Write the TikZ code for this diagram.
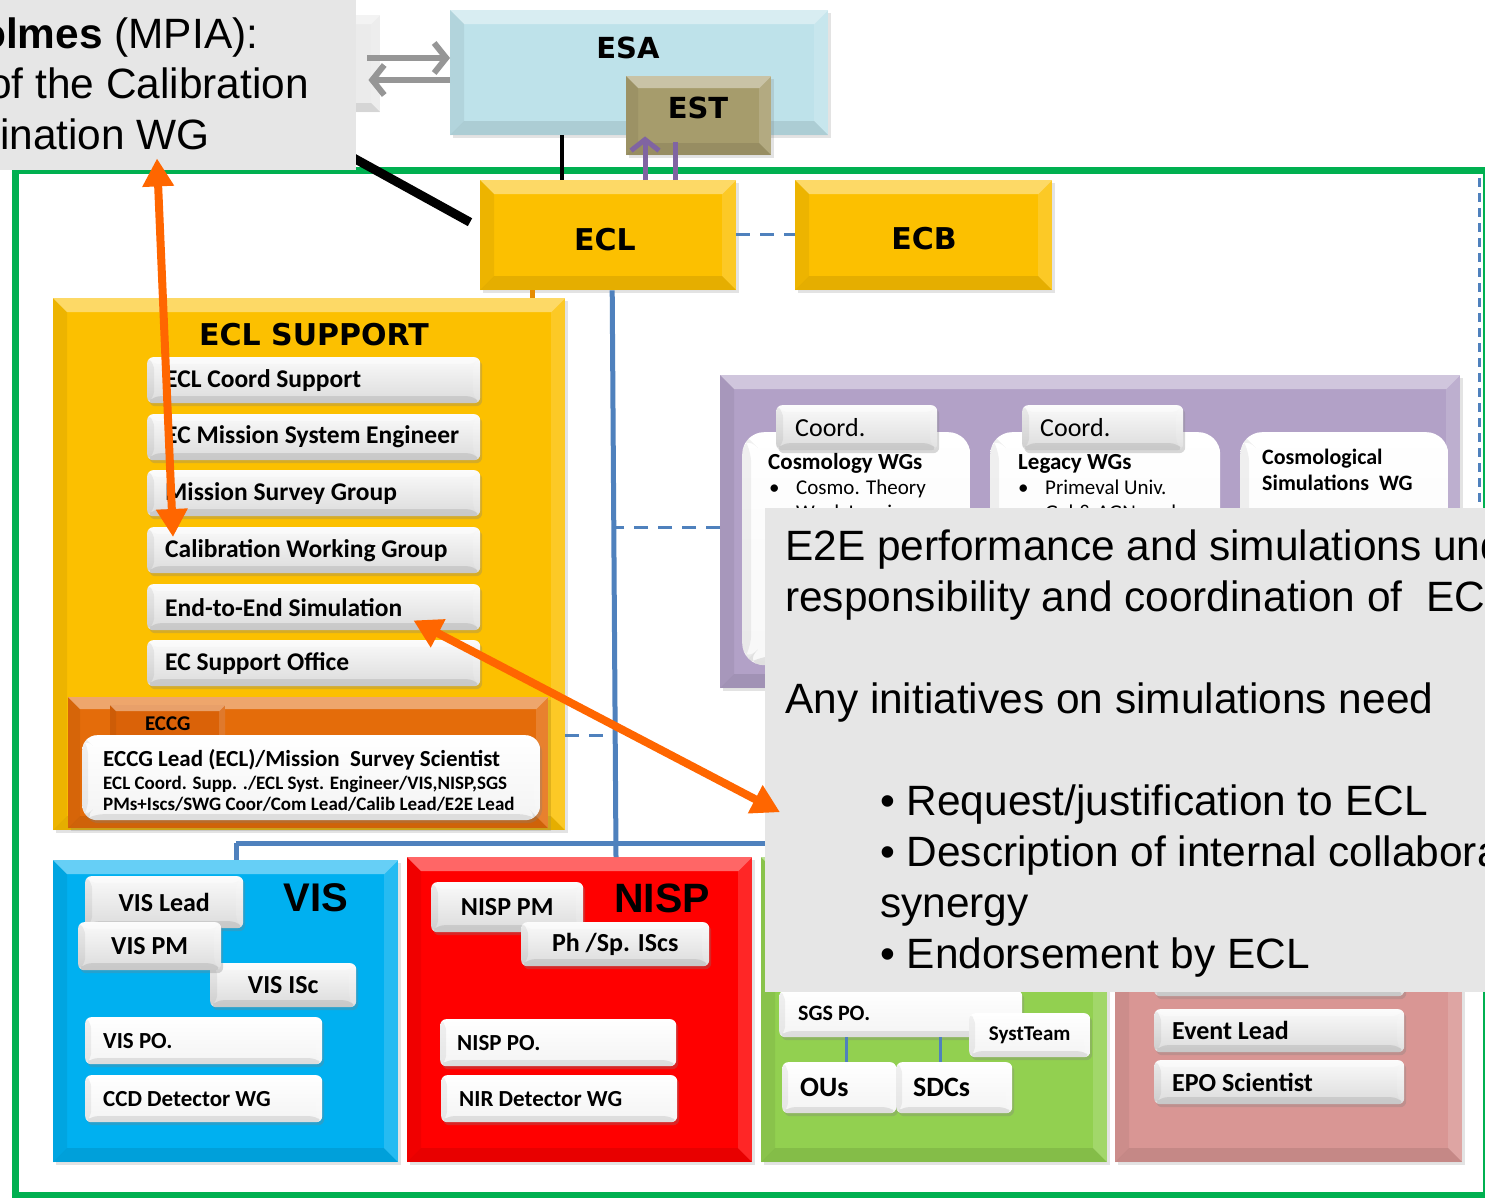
\documentclass[tikz,border=0pt]{standalone}
\usepackage{fontspec}
\setmainfont{Liberation Sans}
\newfontfamily\calibfam{Carlito}
\newfontfamily\verdfam{DejaVu Sans}
\newfontfamily\arialfam{Liberation Sans}
\usetikzlibrary{arrows.meta,shadows}

\definecolor{framegreen}{RGB}{0,176,80}
\definecolor{esablue}{RGB}{190,226,234}
\definecolor{estolive}{RGB}{166,156,108}
\definecolor{eyellow}{RGB}{252,192,0}
\definecolor{eccgorange}{RGB}{228,108,10}
\definecolor{eccgtab}{RGB}{218,98,8}
\definecolor{wgpurple}{RGB}{178,161,199}
\definecolor{visblue}{RGB}{0,176,240}
\definecolor{nispred}{RGB}{255,0,0}
\definecolor{sgsgreen}{RGB}{146,208,80}
\definecolor{epopink}{RGB}{217,150,148}
\definecolor{linkblue}{RGB}{79,129,189}
\definecolor{hiorange}{RGB}{255,102,0}
\definecolor{notegray}{RGB}{230,230,230}
\definecolor{linkgray}{RGB}{150,150,150}
\definecolor{linkpurple}{RGB}{128,100,162}
\definecolor{supporttick}{RGB}{230,140,0}

\newcommand\fntV[1]{\verdfam\bfseries\fontsize{#1}{#1}\selectfont}
\newcommand\fntC[1]{\calibfam\fontsize{#1}{#1}\selectfont}
\newcommand\fntCB[1]{\calibfam\bfseries\fontsize{#1}{#1}\selectfont}
\newcommand\fntA[1]{\arialfam\fontsize{#1}{#1}\selectfont}
\newcommand\fntAB[1]{\arialfam\bfseries\fontsize{#1}{#1}\selectfont}

% box given by its corners, label centred
\newcommand\cbox[7]{%
  \pgfmathsetmacro\boxwd{#4-#2}\pgfmathsetmacro\boxht{#5-#3}%
  \node[anchor=north west, inner sep=0pt, minimum width=\boxwd pt,
        minimum height=\boxht pt, #6] (#1) at (#2,#3) {#7};}
% box given by its corners, label left-aligned with padding #6
\newcommand\lbox[8]{%
  \pgfmathsetmacro\boxwd{#4-#2}\pgfmathsetmacro\boxht{#5-#3}%
  \pgfmathsetmacro\lboxtw{#4-#2-2*#6}%
  \node[anchor=north west, inner ysep=0pt, inner xsep=#6pt, minimum width=\boxwd pt,
        minimum height=\boxht pt, #7] (#1) at (#2,#3) {\makebox[\lboxtw pt][l]{#8}};}

\tikzset{
  bevel/.style={path picture={
    \path (path picture bounding box.north west) coordinate (bvNW)
          (path picture bounding box.north east) coordinate (bvNE)
          (path picture bounding box.south west) coordinate (bvSW)
          (path picture bounding box.south east) coordinate (bvSE);
    \fill[white,opacity=.40] (bvNW) -- (bvNE) -- ([xshift=-#1pt,yshift=-#1pt]bvNE)
        -- ([xshift=#1pt,yshift=-#1pt]bvNW) -- cycle;
    \fill[black,opacity=.06] (bvNW) -- (bvSW) -- ([xshift=#1pt,yshift=#1pt]bvSW)
        -- ([xshift=#1pt,yshift=-#1pt]bvNW) -- cycle;
    \fill[white,opacity=.15] (bvNE) -- (bvSE) -- ([xshift=-#1pt,yshift=#1pt]bvSE)
        -- ([xshift=-#1pt,yshift=-#1pt]bvNE) -- cycle;
    \fill[black,opacity=.09] (bvSW) -- (bvSE) -- ([xshift=-#1pt,yshift=#1pt]bvSE)
        -- ([xshift=#1pt,yshift=#1pt]bvSW) -- cycle;
  }},
  bevel/.default=14,
  panel/.style={fill=#1, bevel=14,
    drop shadow={opacity=.22, shadow xshift=3pt, shadow yshift=-3pt}},
  btn/.style={rounded corners=6pt, top color=gray!4, bottom color=gray!28, bevel=7,
    drop shadow={opacity=.3, shadow xshift=2pt, shadow yshift=-3pt}},
  wbox/.style={rounded corners=6pt, top color=white, bottom color=gray!9, bevel=6,
    drop shadow={opacity=.3, shadow xshift=2pt, shadow yshift=-3pt}},
  wpanel/.style={rounded corners=22pt, top color=white, bottom color=gray!6, bevel=9},
  blink/.style={linkblue, line width=5pt},
  dlink/.style={linkblue, line width=3pt, dash pattern=on 14pt off 10pt},
  oarrow/.style={hiorange, line width=8pt,
    {Triangle[length=28pt,width=30pt]}-{Triangle[length=28pt,width=30pt]}},
}

\begin{document}
\begin{tikzpicture}[x=1pt,y=-1pt]
\useasboundingbox (0,0) rectangle (1485,1197);
\fill[white] (0,0) rectangle (1485,1197);

% consortium frame
\cbox{frame}{12}{167}{1483}{1192}{draw=framegreen, line width=7pt}{}
\coordinate (dvTop) at (1479,178);
\coordinate (dvBot) at (1479,530);
\draw[dlink, dash pattern=on 9pt off 6pt] (dvTop) -- (dvBot);

% agency level
\cbox{gbox}{300}{15}{380}{112}{fill=gray!16, bevel=9}{}
\cbox{esa}{450}{10}{828}{135}{panel=esablue}{}
\node[font=\fntV{29}] (esaL) at (628,48) {ESA};
\cbox{est}{626}{76}{771}{155}{panel=estolive, bevel=12}{}
\node[font=\fntV{29}] (estL) at (698,108) {EST};

\draw[linkgray, line width=6pt, -{Straight Barb[length=12pt,width=30pt]}, shorten <=-13pt]
  (gbox.east |- 0,58) -- (esa.west |- 0,58);
\draw[linkgray, line width=6pt, -{Straight Barb[length=12pt,width=30pt]}, shorten >=-12pt]
  (esa.west |- 0,80) -- (gbox.east |- 0,80);

% lead level
\cbox{ecl}{480}{180}{736}{290}{panel=eyellow}{}
\node[font=\fntV{30}] (eclL) at (605,240) {ECL};
\cbox{ecb}{795}{180}{1052}{290}{panel=eyellow}{}
\node[font=\fntV{30}] (ecbL) at (924,239) {ECB};
\draw[dlink] (ecl.east |- 0,234) -- (ecb.west |- 0,234);

\coordinate (blkStart) at (330,145);
\draw[black, line width=9pt] (blkStart) -- ([xshift=-10pt,yshift=13pt]ecl.west);

\draw[black, line width=3.5pt] (esa.south -| 562,0) -- (ecl.north -| 562,0);
\draw[linkpurple, line width=5pt, -{Straight Barb[length=11pt,width=28pt]}, shorten >=-19pt]
  (ecl.north -| 645,0) -- (est.south -| 645,0);
\draw[linkpurple, line width=5pt, shorten >=-13pt] (ecl.north -| 675,0) -- (est.south -| 675,0);

% support and working groups
\cbox{sup}{53}{298}{565}{830}{panel=eyellow}{}
\draw[supporttick, line width=5pt] (ecl.south -| 532,0) -- (sup.north -| 532,0);
\node[font=\fntV{30}] (supL) at (314,335) {ECL SUPPORT};
\lbox{s1}{147}{357}{480}{403}{18}{btn, font=\fntCB{25.5}}{ECL Coord Support}
\lbox{s2}{147}{414}{480}{460}{18}{btn, font=\fntCB{25.5}}{EC Mission System Engineer}
\lbox{s3}{147}{470}{480}{516}{18}{btn, font=\fntCB{25.5}}{Mission Survey Group}
\lbox{s4}{147}{527}{480}{573}{18}{btn, font=\fntCB{25.5}}{Calibration Working Group}
\lbox{s5}{147}{584}{480}{630}{18}{btn, font=\fntCB{25.5}}{End-to-End Simulation}
\lbox{s6}{147}{640}{480}{686}{18}{btn, font=\fntCB{25.5}}{EC Support Office}

\cbox{eccg}{68}{697}{548}{828}{panel=eccgorange, bevel=12}{}
\cbox{eccgtab}{110}{705}{225}{744}{fill=eccgtab, bevel=6, font=\fntCB{21}}{\raisebox{3pt}{ECCG}}
\cbox{eccgbox}{82}{735}{540}{820}{wbox, rounded corners=15pt}{}
\node[anchor=base west, inner sep=0pt, font=\fntCB{23}] (eccgT1) at (103,766)
  {ECCG Lead (ECL)/Mission\ \ Survey Scientist};
\node[anchor=base west, inner sep=0pt, font=\fntCB{19}] (eccgT2) at (103,789)
  {ECL Coord. Supp. ./ECL Syst. Engineer/VIS,NISP,SGS};
\node[anchor=base west, inner sep=0pt, font=\fntCB{19}] (eccgT3) at (103,810)
  {PMs+Iscs/SWG Coor/Com Lead/Calib Lead/E2E Lead};

\cbox{wg}{720}{375}{1460}{688}{panel=wgpurple}{}
\cbox{wgA}{742}{432}{970}{665}{wpanel}{}
\cbox{wgB}{990}{432}{1220}{665}{wpanel}{}
\cbox{wgC}{1240}{432}{1448}{665}{wpanel}{}
\lbox{tabA}{776}{405}{937}{450}{19}{btn, font=\fntC{26}}{Coord.}
\lbox{tabB}{1022}{405}{1183}{450}{18}{btn, font=\fntC{26}}{Coord.}
\node[anchor=base west, inner sep=0pt, font=\fntCB{23}] (wgA1) at (768,469) {Cosmology WGs};
\node[anchor=base west, inner sep=0pt, font=\fntC{21}] (wgA2) at (769,494)
  {\makebox[27pt][l]{\textbullet}Cosmo. Theory};
\node[anchor=base west, inner sep=0pt, font=\fntC{21}] (wgA3) at (769,519)
  {\makebox[27pt][l]{\textbullet}Weak Lensing};
\node[anchor=base west, inner sep=0pt, font=\fntCB{23}] (wgB1) at (1018,469) {Legacy WGs};
\node[anchor=base west, inner sep=0pt, font=\fntC{21}] (wgB2) at (1018,494)
  {\makebox[27pt][l]{\textbullet}Primeval Univ.};
\node[anchor=base west, inner sep=0pt, font=\fntC{21}] (wgB3) at (1018,519)
  {\makebox[27pt][l]{\textbullet}Gal \& AGN evol.};
\node[anchor=base west, inner sep=0pt, font=\fntCB{22}] (wgC1) at (1262,464) {Cosmological};
\node[anchor=base west, inner sep=0pt, font=\fntCB{22}] (wgC2) at (1262,490) {Simulations\ \ WG};

% instrument and ground segment level
\cbox{vis}{53}{860}{398}{1162}{panel=visblue}{}
\cbox{nisp}{407}{857}{752}{1162}{panel=nispred}{}
\cbox{sgs}{761}{857}{1107}{1162}{panel=sgsgreen}{}
\cbox{epo}{1115}{857}{1462}{1162}{panel=epopink}{}

\coordinate (busL) at (236,843);
\coordinate (busR) at (772,843);
\draw[blink] ([xshift=4pt]ecl.south) -- (nisp.north -| 616,0);
\draw[blink] (busL) -- (busR);
\draw[blink] (busL) -- (vis.north -| busL);
\draw[dlink] (wg.west |- 0,527) -- (614,527);
\draw[dlink] (sup.east |- 0,735) -- (614,735);

\node[font=\fntAB{40}] (visL) at (316,898) {VIS};
\cbox{visLead}{85}{876}{243}{928}{btn, font=\fntCB{26}}{VIS Lead}
\cbox{visISc}{210}{963}{356}{1007}{btn, font=\fntCB{26}}{VIS ISc}
\cbox{visPM}{78}{922}{221}{970}{btn, font=\fntCB{26}}{VIS PM}
\lbox{visPO}{85}{1017}{322}{1064}{18}{wbox, font=\fntCB{23}}{VIS PO.}
\lbox{ccd}{85}{1075}{322}{1122}{18}{wbox, font=\fntCB{23}}{CCD Detector WG}

\node[font=\fntAB{41}] (nispL) at (662,898) {NISP};
\cbox{nispPM}{431}{882}{583}{932}{btn, font=\fntCB{26}}{NISP PM}
\cbox{nispIS}{521}{922}{709}{966}{btn, font=\fntCB{26}}{Ph /Sp. IScs}
\lbox{nispPO}{440}{1019}{676}{1066}{17}{wbox, font=\fntCB{23}}{NISP PO.}
\lbox{nir}{441}{1075}{677}{1122}{18}{wbox, font=\fntCB{23}}{NIR Detector WG}

\lbox{sgsPO}{779}{990}{1022}{1037}{19}{wbox, font=\fntCB{22}}{SGS PO.}
\cbox{syst}{969}{1013}{1090}{1057}{wbox, font=\fntCB{21}}{SystTeam}
\lbox{ous}{782}{1062}{896}{1113}{18}{wbox, font=\fntCB{28}}{OUs}
\lbox{sdcs}{896}{1062}{1012}{1113}{17}{wbox, font=\fntCB{28}}{SDCs}
\draw[linkblue, line width=3pt] (sgsPO.south -| 846,0) -- (ous.north -| 846,0);
\draw[linkblue, line width=3pt] (sgsPO.south -| 940,0) -- (sdcs.north -| 940,0);

\cbox{epoTop}{1154}{950}{1404}{996}{btn}{}
\lbox{event}{1154}{1009}{1404}{1052}{18}{btn, font=\fntCB{26}}{Event Lead}
\lbox{epoSci}{1154}{1060}{1404}{1104}{18}{btn, font=\fntCB{26}}{EPO Scientist}

% note on simulations
\cbox{callB}{765}{508}{1485}{992}{fill=notegray}{}
\begin{scope}
  \clip (callB.south west) rectangle (callB.north east);
  \node[anchor=base west, inner sep=0pt, font=\fntA{42.4}] (nb1) at (785,560)
    {E2E performance and simulations under the};
  \node[anchor=base west, inner sep=0pt, font=\fntA{42.4}] (nb2) at (785,611)
    {responsibility and coordination of\ \ ECL};
  \node[anchor=base west, inner sep=0pt, font=\fntA{42.4}] (nb3) at (785,713)
    {Any initiatives on simulations need};
  \node[anchor=base west, inner sep=0pt, font=\fntA{42.4}] (nb4) at (880,815)
    {\textbullet\ Request/justification to ECL};
  \node[anchor=base west, inner sep=0pt, font=\fntA{42.4}] (nb5) at (880,866)
    {\textbullet\ Description of internal collaboration and};
  \node[anchor=base west, inner sep=0pt, font=\fntA{42.4}] (nb6) at (880,917)
    {synergy};
  \node[anchor=base west, inner sep=0pt, font=\fntA{42.4}] (nb7) at (880,968)
    {\textbullet\ Endorsement by ECL};
\end{scope}

% note on calibration coordination
\cbox{callA}{0}{0}{356}{170}{fill=notegray}{}
\begin{scope}
  \clip (callA.south west) rectangle (callA.north east);
  \node[anchor=base west, inner sep=0pt, font=\fntA{42.4}] (na1) at (-20,48)
    {\textbf{olmes} (MPIA):};
  \node[anchor=base west, inner sep=0pt, font=\fntA{42.4}] (na2) at (-12,98)
    {of the Calibration};
  \node[anchor=base west, inner sep=0pt, font=\fntA{42.4}] (na3) at (0,149)
    {ination WG};
\end{scope}

% highlight arrows
\draw[oarrow] ([xshift=157pt,yshift=12pt]callA.south west) -- ([xshift=26pt,yshift=-10pt]s4.north west);
\draw[oarrow] ([xshift=-67pt,yshift=10pt]s5.south east) -- ([xshift=15pt,yshift=-62pt]callB.west);
\end{tikzpicture}
\end{document}
